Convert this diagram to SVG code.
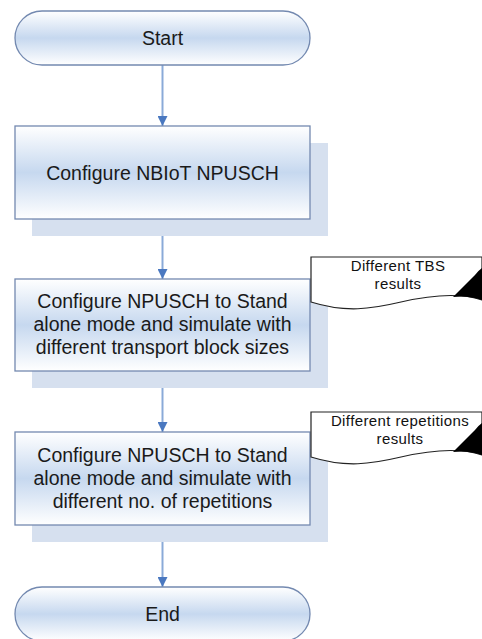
<svg xmlns="http://www.w3.org/2000/svg" width="482" height="639" viewBox="0 0 482 639">
<defs>
<linearGradient id="g" x1="0" y1="0" x2="0" y2="1">
<stop offset="0" stop-color="#ffffff"/>
<stop offset="0.5" stop-color="#c6d8ef"/>
<stop offset="1" stop-color="#ffffff"/>
</linearGradient>
<marker id="ah" markerWidth="10" markerHeight="10" refX="10" refY="5" orient="auto" markerUnits="userSpaceOnUse">
<path d="M0,0 L10,5 L0,10 Z" fill="#4a78c0"/>
</marker>
<g id="doc">
<path d="M0,0 H171 V43 C150,36 120,38 90,45 C60,52 35,56 0,45 Z" fill="#ffffff" stroke="#222" stroke-width="1.2"/>
<path d="M142,40 L164,18 Q168,13 171,11 V43 Q156,38 142,40 Z" fill="#000"/>
</g>
</defs>
<style>
.box{fill:url(#g);stroke:#7389b0;stroke-width:1.3}
.sh{fill:#d6e0ef}
.t{font-family:"Liberation Sans",Arial,sans-serif;font-size:19.5px;fill:#1a1a1a;text-anchor:middle}
.s{font-family:"Liberation Sans",Arial,sans-serif;font-size:15px;fill:#111;text-anchor:middle;letter-spacing:0.4px}
.c{stroke:#8aaad8;stroke-width:2;fill:none}
</style>
<g id="connectors">
<line class="c" x1="162.5" y1="65" x2="162.5" y2="126" marker-end="url(#ah)"/>
<line class="c" x1="162.5" y1="219" x2="162.5" y2="279" marker-end="url(#ah)"/>
<line class="c" x1="162.5" y1="371" x2="162.5" y2="432" marker-end="url(#ah)"/>
<line class="c" x1="162.5" y1="525" x2="162.5" y2="587" marker-end="url(#ah)"/>
</g>
<g id="start">
<rect class="box" x="15" y="11" width="295" height="54" rx="27" ry="27"/>
<text class="t" x="162.5" y="45">Start</text>
</g>
<g id="configure">
<rect class="sh" x="32" y="143" width="296" height="93"/>
<rect class="box" x="15" y="126" width="295" height="93"/>
<text class="t" x="162.5" y="180">Configure NBIoT NPUSCH</text>
</g>
<g id="tbs">
<rect class="sh" x="32" y="296" width="296" height="92"/>
<rect class="box" x="15" y="279" width="295" height="92"/>
<text class="t" x="162.5" y="308">Configure NPUSCH to Stand</text>
<text class="t" x="162.5" y="331">alone mode and simulate with</text>
<text class="t" x="162.5" y="354">different transport block sizes</text>
</g>
<g id="tbs-results">
<use href="#doc" x="311" y="257"/>
<text class="s" x="398" y="271">Different TBS</text>
<text class="s" x="398" y="289">results</text>
</g>
<g id="rep">
<rect class="sh" x="32" y="449" width="296" height="93"/>
<rect class="box" x="15" y="432" width="295" height="93"/>
<text class="t" x="162.5" y="462">Configure NPUSCH to Stand</text>
<text class="t" x="162.5" y="485">alone mode and simulate with</text>
<text class="t" x="162.5" y="508">different no. of repetitions</text>
</g>
<g id="rep-results">
<use href="#doc" x="311" y="412"/>
<text class="s" x="400" y="426">Different repetitions</text>
<text class="s" x="400" y="444">results</text>
</g>
<g id="end">
<rect class="box" x="15" y="587" width="295" height="54" rx="27" ry="27"/>
<text class="t" x="162.5" y="621">End</text>
</g>
</svg>
